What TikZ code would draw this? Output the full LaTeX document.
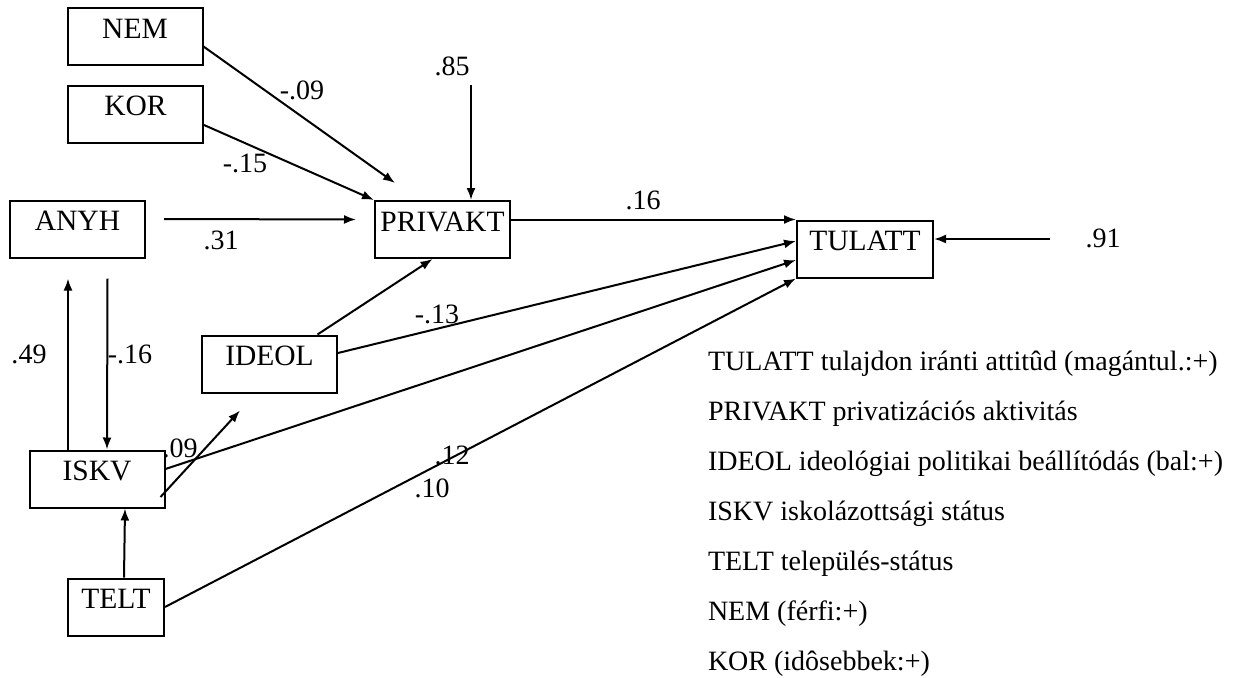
\documentclass[tikz,border=0pt]{standalone}
\usepackage{fontspec}
\setmainfont{Liberation Serif}
\usetikzlibrary{positioning}
\usetikzlibrary{arrows.meta}

\begin{document}
\begin{tikzpicture}[
        x = 1pt, y = -1pt,
        line width = 2pt,
        font = \fontsize{28}{34}\selectfont,
        >={Latex[length=12pt, width=9pt]},
        var/.style = {
            draw,
            rectangle,
            font = \fontsize{29.5}{34}\selectfont,
            line width = 2pt,
            minimum width = #1,
            inner xsep = 0pt,
            inner ysep = 0pt,
            text height = 30pt,
            text depth = 27pt
        },
        var/.default = 135pt,
        coef/.style = {
            inner sep = 0pt
        },
        legend/.style = {
            anchor = base west,
            inner sep = 0pt
        }
        ]
%
        \useasboundingbox (0,0) rectangle (1257,677);
%
        \node[var] (NEM) at (135,36.5) {NEM};
        \node[var] (KOR) at (135.5,114) {KOR};
        \node[var] (ANYH) at (77.5,229) {ANYH};
        \node[var] (PRIVAKT) at (442.5,229.5) {PRIVAKT};
        \node[var=136pt] (TULATT) at (865,249) {TULATT};
        \node[var] (IDEOL) at (269.5,364) {IDEOL};
        \node[var] (ISKV) at (97,479) {ISKV};
        \node[var=96pt] (TELT) at (116,607) {TELT};
%
        \coordinate (nemtip) at (395,183);
        \coordinate (e85) at (471,85);
        \coordinate (e91) at (1050,239);
%
        \draw[->] ([yshift=-10pt]NEM.east) -- (nemtip);
        \draw[->] ([yshift=-11pt]KOR.east) -- (PRIVAKT.north west);
        \draw[->] ([xshift=18pt, yshift=10pt]ANYH.east) -- ([xshift=-18pt, yshift=10pt]PRIVAKT.west);
        \draw[->] (e85) -- (PRIVAKT.north -| e85);
        \draw[->] ([xshift=48pt]IDEOL.north) -- ([xshift=-10pt]PRIVAKT.south);
%
        \draw[->] ([yshift=10pt]PRIVAKT.east) -- (TULATT.north west);
        \draw[->] ([yshift=11pt]IDEOL.east) -- ([yshift=8pt]TULATT.west);
        \draw[->] ([yshift=10pt]ISKV.east) -- ([yshift=-11pt]TULATT.west);
        \draw[->] (TELT.east) -- (TULATT.south west);
        \draw[->] (e91) -- (TULATT.east |- e91);
%
        \draw[->] ([xshift=30pt, yshift=-20pt]ANYH.south) -- ([xshift=10pt]ISKV.north);
        \draw[->] ([xshift=-29pt]ISKV.north) -- ([xshift=-9.5pt, yshift=-20pt]ANYH.south);
        \draw[->] ([xshift=-5pt, yshift=-18pt]ISKV.east) -- ([xshift=-29.5pt, yshift=-17pt]IDEOL.south);
        \draw[->] ([xshift=8pt]TELT.north) -- ([xshift=28pt]ISKV.south);
%
        \node[coef] (c85) at (452,66) {.85};
        \node[coef] (cnem) at (302,90) {-.09};
        \node[coef] (ckor) at (245,163) {-.15};
        \node[coef] (canyh) at (221,240) {.31};
        \node[coef] (cpriv) at (643,200) {.16};
        \node[coef] (cideol) at (437,314) {-.13};
        \node[coef] (c91) at (1103,238) {.91};
        \node[coef] (ciskvup) at (29,354) {.49};
        \node[coef] (canyhdn) at (130,354) {-.16};
        \node[coef] (ciskv) at (180,448) {.09};
        \node[coef] (ctelt1) at (452,455) {.12};
        \node[coef] (ctelt2) at (432,488) {.10};
%
        \node[legend] (leg1) at (707,370) {TULATT tulajdon iránti attitûd (magántul.:+)};
        \node[legend] (leg2) at (707,420) {PRIVAKT privatizációs aktivitás};
        \node[legend] (leg3) at (707,470) {IDEOL ideológiai politikai beállítódás (bal:+)};
        \node[legend] (leg4) at (707,520) {ISKV iskolázottsági státus};
        \node[legend] (leg5) at (707,570) {TELT település-státus};
        \node[legend] (leg6) at (707,620) {NEM (férfi:+)};
        \node[legend] (leg7) at (707,670) {KOR (idôsebbek:+)};
%
    \end{tikzpicture}
\end{document}
